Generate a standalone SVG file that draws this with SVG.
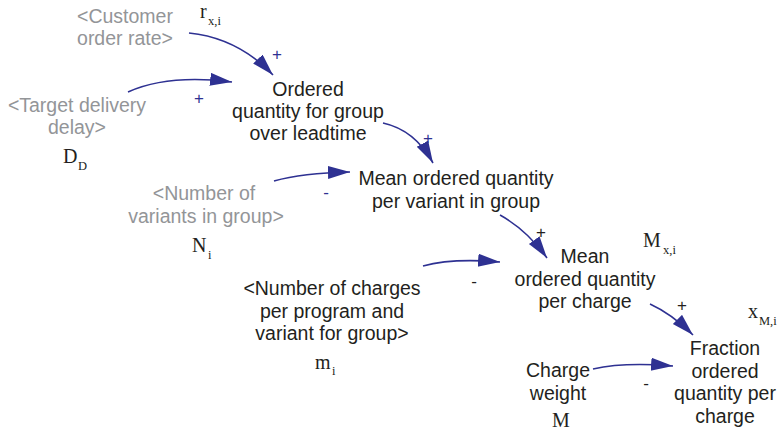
<svg xmlns="http://www.w3.org/2000/svg" width="780" height="433" viewBox="0 0 780 433">
<defs>
<marker id="ah" markerUnits="userSpaceOnUse" markerWidth="24" markerHeight="14" refX="22" refY="6.5" orient="auto">
<path d="M0,0 L22,6.5 L0,13 Z" fill="#2e3192"/>
</marker>
<style>
.lbl{font-family:"Liberation Sans",Arial,sans-serif;font-size:19.5px;fill:#231f20;text-anchor:middle}
.gray{fill:#939598}
.sym{font-family:"Liberation Serif","Times New Roman",serif;font-size:20px;fill:#231f20}
.sub{font-family:"Liberation Serif","Times New Roman",serif;font-size:12.5px;fill:#231f20}
.pol{font-family:"Liberation Sans",Arial,sans-serif;font-size:17px;text-anchor:middle;fill:#2e3192}
.polk{fill:#231f20}
.lnk{fill:none;stroke:#2e3192;stroke-width:1.6;marker-end:url(#ah)}
</style>
</defs>
<rect width="780" height="433" fill="#ffffff"/>
<g id="customer-order-rate">
<text class="lbl gray" x="125" y="23">&lt;Customer</text>
<text class="lbl gray" x="125" y="45">order rate&gt;</text>
<text class="sym" x="200" y="18">r</text><text class="sub" x="208" y="25">x,i</text>
</g>
<g id="target-delivery-delay">
<text class="lbl gray" x="77" y="112">&lt;Target delivery</text>
<text class="lbl gray" x="77" y="134">delay&gt;</text>
<text class="sym" x="63" y="163">D</text><text class="sub" x="78" y="170">D</text>
</g>
<g id="ordered-quantity">
<text class="lbl" x="308" y="96">Ordered</text>
<text class="lbl" x="308" y="118">quantity for group</text>
<text class="lbl" x="308" y="140">over leadtime</text>
</g>
<g id="mean-per-variant">
<text class="lbl" x="456" y="185">Mean ordered quantity</text>
<text class="lbl" x="456" y="208">per variant in group</text>
</g>
<g id="number-of-variants">
<text class="lbl gray" x="204" y="200">&lt;Number of</text>
<text class="lbl gray" x="206" y="223">variants in group&gt;</text>
<text class="sym" x="192" y="252">N</text><text class="sub" x="208" y="259">i</text>
</g>
<g id="number-of-charges">
<text class="lbl" x="332" y="295">&lt;Number of charges</text>
<text class="lbl" x="332" y="318">per program and</text>
<text class="lbl" x="332" y="340">variant for group&gt;</text>
<text class="sym" x="315" y="369">m</text><text class="sub" x="332" y="375">i</text>
</g>
<g id="mean-per-charge">
<text class="lbl" x="585" y="263">Mean</text>
<text class="lbl" x="585" y="286">ordered quantity</text>
<text class="lbl" x="585" y="308">per charge</text>
<text class="sym" x="643" y="247">M</text><text class="sub" x="663" y="254">x,i</text>
</g>
<g id="fraction-per-charge">
<text class="lbl" x="725" y="355">Fraction</text>
<text class="lbl" x="725" y="378">ordered</text>
<text class="lbl" x="725" y="400">quantity per</text>
<text class="lbl" x="725" y="423">charge</text>
<text class="sym" x="748" y="318">x</text><text class="sub" x="759" y="325">M,i</text>
</g>
<g id="charge-weight">
<text class="lbl" x="558" y="377">Charge</text>
<text class="lbl" x="558" y="400">weight</text>
<text class="sym" x="561" y="427" text-anchor="middle">M</text>
</g>
<g id="connectors">
<path class="lnk" d="M189,33 Q238,38 273,75"/>
<path class="lnk" d="M128,92 Q168,74 232,82"/>
<path class="lnk" d="M383,123 Q415,130 433,163"/>
<path class="lnk" d="M274,181 Q302,173 350,172"/>
<path class="lnk" d="M500,215 Q527,230 547,258"/>
<path class="lnk" d="M423,266 Q452,258 500,262"/>
<path class="lnk" d="M650,304 Q672,314 693,335"/>
<path class="lnk" d="M593,369 Q624,362 673,366"/>
<text class="pol" x="277" y="60">+</text>
<text class="pol" x="199" y="104">+</text>
<text class="pol" x="428" y="144">+</text>
<text class="pol" x="326" y="198">-</text>
<text class="pol polk" x="541" y="238">+</text>
<text class="pol polk" x="474" y="287">-</text>
<text class="pol polk" x="682" y="311">+</text>
<text class="pol polk" x="646" y="389">-</text>
</g>
</svg>
